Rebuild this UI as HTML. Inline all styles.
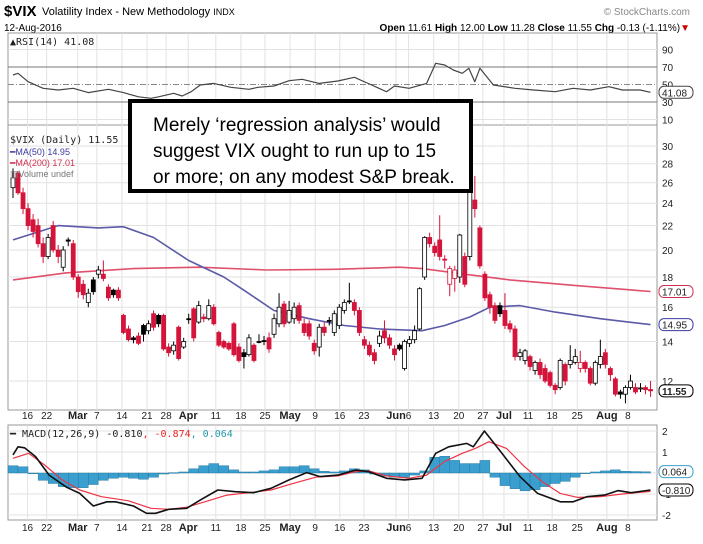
<!DOCTYPE html>
<html><head><meta charset="utf-8">
<style>
html,body{margin:0;padding:0;background:#fff;}
svg{display:block;font-family:"Liberation Sans",sans-serif;}
</style></head>
<body>
<svg id="chart" width="703" height="544" viewBox="0 0 703 544" xmlns="http://www.w3.org/2000/svg">
<rect width="703" height="544" fill="#fff"/>
<g>
<text x="4" y="16" font-size="15" font-weight="bold">$VIX</text>
<text x="42" y="15" font-size="11">Volatility Index - New Methodology <tspan font-size="9">INDX</tspan></text>
<text x="690" y="15" font-size="10" fill="#888" text-anchor="end">© StockCharts.com</text>
<text x="4" y="31" font-size="10">12-Aug-2016</text>
<text x="690" y="31" font-size="10" text-anchor="end"><tspan font-weight="bold">Open</tspan> 11.61 <tspan font-weight="bold">High</tspan> 12.00 <tspan font-weight="bold">Low</tspan> 11.28 <tspan font-weight="bold">Close</tspan> 11.55 <tspan font-weight="bold">Chg</tspan> -0.13 (-1.11%)<tspan fill="#c00">▼</tspan></text>
</g>
<g id="grid"></g>
<g id="marks"></g>
<g id="labels"></g>
<g>
<rect x="130" y="101" width="341" height="90" fill="#fff" stroke="#000" stroke-width="4"/>
<text x="153" y="131" font-size="19">Merely ‘regression analysis’ would</text>
<text x="153" y="157" font-size="19">suggest VIX ought to run up to 15</text>
<text x="153" y="183" font-size="19">or more; on any modest S&amp;P break.</text>
</g>
</svg>
<script>
const opens=[25.5,27.0,25.0,23.5,22.5,22.0,20.5,19.5,22.0,20.0,18.7,20.8,20.5,18.0,17.5,16.3,17.8,18.2,18.2,17.3,17.1,17.1,15.5,14.7,14.2,14.3,14.9,14.6,15.6,15.5,15.5,13.7,13.5,14.8,13.7,15.3,15.9,15.1,15.4,15.3,16.0,14.5,14.0,13.9,15.0,13.7,13.4,13.3,13.8,14.0,14.05,14.2,14.4,15.0,16.2,15.1,15.3,16.1,15.0,15.0,13.9,13.7,14.8,15.2,14.5,14.9,15.8,16.4,16.3,15.8,14.1,13.8,13.4,13.9,14.6,14.2,13.6,13.8,12.6,13.9,14.1,14.7,18.0,21.0,20.3,20.8,19.3,17.5,17.9,18.0,19.5,19.5,24.3,21.8,18.2,16.8,16.1,16.1,15.8,15.0,14.7,13.2,13.0,13.2,12.5,12.9,12.6,12.4,11.8,11.7,12.8,12.8,12.9,12.6,12.9,12.6,11.9,12.8,13.4,12.6,12.1,11.5,11.4,11.7,11.7,11.65,11.7,11.61];
const closes=[26.5,25.0,23.5,22.0,21.5,20.5,19.5,21.0,20.0,19.5,20.0,20.7,18.0,17.0,16.8,16.9,17.0,18.5,17.9,16.6,16.8,16.6,14.5,14.1,14.1,13.9,14.4,15.0,14.8,15.0,13.6,13.4,13.8,13.1,14.0,15.25,14.2,16.1,15.3,16.1,15.0,13.8,13.7,13.6,13.3,13.0,13.2,14.2,13.0,14.0,14.0,13.6,15.3,16.0,15.0,15.8,16.0,15.2,14.5,14.3,13.5,14.8,14.5,15.15,15.6,16.0,16.3,16.35,15.8,14.5,13.8,13.3,13.0,14.3,14.2,13.8,13.3,13.6,14.0,14.1,14.6,17.2,21.0,20.5,19.8,19.5,19.25,18.6,18.5,21.2,17.5,26.0,23.5,18.8,16.6,16.0,15.2,15.6,14.9,14.7,13.2,13.4,13.5,12.7,12.9,12.3,12.0,11.8,11.6,13.0,12.0,13.0,13.2,12.9,12.6,11.9,12.9,13.2,12.8,12.3,11.4,11.4,11.7,12.0,11.5,11.68,11.6,11.55];
const highs=[27.5,27.2,25.5,24.0,23.0,22.6,21.0,21.3,22.4,20.4,20.3,21.0,20.8,18.2,17.8,17.2,18.0,18.8,19.2,17.5,17.2,17.3,15.6,14.9,14.3,14.5,15.0,15.2,15.8,15.6,15.6,13.9,14.0,14.9,14.2,15.6,16.0,16.4,15.6,16.5,16.2,14.6,14.1,14.0,15.1,13.9,13.6,14.4,13.9,14.4,14.3,14.5,15.6,16.9,16.4,16.4,16.3,16.3,15.3,15.2,14.1,15.0,15.1,15.4,15.8,16.2,16.5,17.6,16.5,16.0,14.3,14.0,13.6,14.6,15.2,14.4,13.8,13.9,14.1,14.3,14.9,17.3,21.1,21.4,20.6,22.9,19.6,18.8,18.8,21.3,19.8,26.2,26.7,22.0,18.4,17.0,16.3,16.3,16.9,15.2,14.9,13.6,13.6,13.3,13.0,13.1,12.8,12.5,11.9,13.1,12.9,13.8,13.6,13.5,13.0,12.7,13.0,14.1,13.6,12.7,12.2,11.6,11.8,12.3,11.9,11.9,11.8,12.00];
const lows=[24.5,24.8,23.0,21.6,21.0,20.2,19.0,19.3,19.8,19.0,18.4,20.3,17.8,16.6,16.5,16.0,16.8,17.9,17.7,16.4,16.6,16.4,14.4,14.0,13.9,13.8,14.0,14.4,14.6,14.8,13.5,13.2,13.3,13.0,13.6,15.0,14.0,15.0,15.1,15.2,14.9,13.7,13.6,13.5,13.2,12.9,12.6,13.2,12.9,13.9,13.8,13.4,14.2,14.8,14.8,15.0,15.0,15.0,14.3,14.1,13.3,13.2,14.3,14.9,14.3,14.7,15.6,16.2,15.5,14.3,13.6,13.2,12.8,13.7,13.9,13.6,13.0,13.5,12.5,13.7,13.9,14.6,17.8,20.2,19.5,19.2,18.6,16.7,17.0,17.6,17.3,19.2,22.7,18.6,16.4,15.6,15.0,15.4,14.7,14.5,13.0,13.0,12.8,12.5,12.3,12.1,11.9,11.7,11.4,11.6,11.8,12.6,12.8,12.4,12.4,11.8,11.8,12.6,12.6,12.0,11.3,11.2,11.0,11.6,11.4,11.5,11.4,11.28];
const ma50Days=[0,9,17,22,28,35,42,46,52,59,66,73,81.5,86,91,95,101,108,117,127];
const ma50Vals=[20.8,22,21.8,21.9,21.0,19.2,18.0,17.1,15.8,15.3,14.9,14.7,14.6,14.9,15.4,16.0,16.1,15.7,15.3,14.95];
const ma200Days=[0,10.7,24,37,50.6,64,77,81.5,90,99,112.5,127];
const ma200Vals=[17.8,18.3,18.6,18.7,18.5,18.55,18.7,18.6,18.2,17.8,17.4,17.01];
const rsiDays=[0,1,3,6,9,12,15,19,22,25,27.5,29,32,33.7,35.5,37.3,40,43.4,47,48.8,52,55,57.6,61,64.7,68,71,74.4,76,78.9,82.4,84.2,86,87.7,89.5,90.8,92,93,95.7,100,103.7,108,111.6,115,118.7,121.4,124.9,127];
const rsiVals=[60.9,62.8,53.2,45.6,43.7,45.6,40.7,44.5,40.7,36,34.2,36,39.9,36.9,41.8,49.4,51.3,46.8,44.5,46.8,48.3,54.4,55.9,51.3,54,58.2,50.6,41.8,48.3,45.6,51.3,74.2,72.3,66.6,62.8,68.5,53.2,68.5,49.4,45.6,43.7,41.8,45.6,43.7,47.5,43.7,43.7,41.08];
const macdDays=[0,1,2.3,4.5,7.2,10.7,13.3,16,18.7,20.4,24,26.6,28.4,31,34.6,37.3,40.8,44.3,47.9,51.4,55,58.5,61.2,64.7,68.2,70.9,74.4,78,81.5,84.2,86.8,90.4,91.7,93.9,97.4,101,104.5,109,111.6,114.3,117.8,120.5,123.1,127];
const macdVals=[0.86,1.25,1.2,0.78,-0.1,-0.68,-0.97,-1.57,-1.37,-1.37,-1.57,-1.92,-1.92,-1.73,-1.68,-1.29,-0.81,-0.89,-0.94,-0.73,-0.33,0.02,-0.17,-0.1,0.14,0.06,-0.25,-0.33,-0.25,0.94,1.25,1.41,1.25,2.0,0.94,-0.17,-0.97,-1.37,-1.37,-1.13,-1.05,-0.84,-0.94,-0.81];
const signalDays=[0,3.1,6.3,9.8,13.3,17.6,22.9,27.5,31,34.6,38.2,42.6,47,51.4,55.9,60.3,64.7,68.2,70.9,74.4,78.9,82.4,85.9,89.5,92.1,94.8,98.3,101.9,105.4,109,112.5,117,121.4,127];
const signalVals=[0.7,0.94,0.38,-0.33,-0.81,-1.13,-1.32,-1.68,-1.73,-1.63,-1.37,-1.05,-0.94,-0.81,-0.49,-0.2,-0.14,0.06,0.1,-0.14,-0.25,-0.1,0.54,0.94,1.17,1.49,1.17,0.3,-0.41,-0.97,-1.16,-1.13,-1.0,-0.874];
const histVals=[0.35,0.3,0.0,-0.35,-0.5,-0.65,-0.7,-0.7,-0.55,-0.35,-0.25,-0.2,-0.25,-0.3,-0.2,-0.05,0.02,0.05,0.2,0.35,0.45,0.35,0.15,0.05,0.05,0.1,0.15,0.3,0.3,0.35,0.2,0.08,0.05,0.1,0.2,0.15,-0.05,-0.15,-0.2,-0.2,-0.1,0.1,0.75,0.8,0.6,0.45,0.45,0.6,-0.2,-0.6,-0.75,-0.85,-0.8,-0.65,-0.5,-0.4,-0.2,0.0,0.05,0.1,0.15,0.08,0.07,0.06];
const tickDays=[2.9,6.7,12.9,16.7,21.7,26.7,30.5,34.9,40.4,45.4,50.2,55.2,60.2,65.1,69.9,76.3,78.8,83.8,88.8,93.6,97.8,102.6,107.4,112.4,118.3,122.5];
const tickLabels=["16","22","Mar","7","14","21","28","Apr","11","18","25","May","9","16","23","Jun","6","13","20","27","Jul","11","18","25","Aug","8"];
const priceTicks=[12,14,16,18,20,22,24,26,28,30];
const rsiTicks=[90,70,50,30,10];
const macdTicks=[2,1,0,-1,-2];

const NS="http://www.w3.org/2000/svg";
const L=8,R=657;
const RSI_T=33,RSI_B=125,P_T=125,P_B=410,M_T=425,M_B=520;
function xd(i){return 13+i*5.02;}
function yp(v){return 146+(Math.log(30)-Math.log(v))*256.5;}
function yr(v){return 67+(70-v)*0.875;}
function ym(v){return 473-v*21;}
function mk(tag,attrs,parent){const e=document.createElementNS(NS,tag);for(const k in attrs)e.setAttribute(k,attrs[k]);parent.appendChild(e);return e;}
const grid=document.getElementById('grid'),marks=document.getElementById('marks'),labels=document.getElementById('labels');

// panel frames
[[RSI_T,RSI_B,'rsi-panel'],[P_T,P_B,'price-panel'],[M_T,M_B,'macd-panel']].forEach(p=>{
  const r=mk('rect',{x:L,y:p[0],width:R-L,height:p[1]-p[0],fill:'#fff',stroke:'#999','stroke-width':1},grid);
  
  
});
// vertical grid + x labels
tickDays.forEach((d,k)=>{
  const x=xd(d);
  [[RSI_T,RSI_B],[P_T,P_B],[M_T,M_B]].forEach(p=>{
    const ln=mk('line',{x1:x,x2:x,y1:p[0],y2:p[1],stroke:'#e2e2e2'},grid);
    
    
  });
  const bold=/[A-Za-z]/.test(tickLabels[k]);
  [419,531].forEach(yy=>{
    const t=mk('text',{x:x,y:yy,'font-size':bold?11:10,'font-weight':bold?'bold':'normal','text-anchor':'middle',fill:'#222'},labels);
    t.textContent=tickLabels[k];
    
    
  });
});
// price grid
priceTicks.forEach(v=>{
  const y=yp(v);
  const ln=mk('line',{x1:L,x2:R,y1:y,y2:y,stroke:'#e2e2e2'},grid);
  
  
  const t=mk('text',{x:662,y:y+4,'font-size':10,fill:'#222'},labels);
  t.textContent=v;
  
  
});
// rsi grid
rsiTicks.forEach(v=>{
  const y=yr(v);
  const st=(v==70||v==30)?{stroke:'#777'}:(v==50?{stroke:'#888','stroke-dasharray':'6,2,1,2'}:{stroke:'#e2e2e2'});
  const ln=mk('line',Object.assign({x1:L,x2:R,y1:y,y2:y},st),grid);
  
  
  const t=mk('text',{x:662,y:y+4,'font-size':10,fill:'#222'},labels);
  t.textContent=v;
  
  
});
// macd grid
macdTicks.forEach(v=>{
  const y=ym(v);
  const ln=mk('line',{x1:L,x2:R,y1:y,y2:y,stroke:'#e2e2e2'},grid);
  
  
  if(v!==0){
    const t=mk('text',{x:662,y:y+4,'font-size':10,fill:'#222'},labels);
    t.textContent=v;
    
    
  }
});
function poly(days,vals,yf,color,w,name){
  const pts=days.map((d,i)=>xd(d).toFixed(1)+','+yf(vals[i]).toFixed(1)).join(' ');
  const p=mk('polyline',{points:pts,fill:'none',stroke:color,'stroke-width':w,'stroke-linejoin':'round'},marks);
  
  
}
// RSI
poly(rsiDays,rsiVals,yr,'#444',1.2,'rsi-line');
// MAs
poly(ma200Days,ma200Vals,yp,'#e0506a',1.6,'ma200-line');
poly(ma50Days,ma50Vals,yp,'#5a5aa8',1.6,'ma50-line');
// candles
opens.forEach((o,i)=>{
  const c=closes[i],h=highs[i],l=lows[i],x=xd(i);
  const prev=i>0?closes[i-1]:c;
  const col=c<prev?'#d4143a':'#000';
  const g=mk('g',{},marks);
  
  
  mk('line',{x1:x,x2:x,y1:yp(h),y2:yp(l),stroke:col,'stroke-width':1},g);
  const top=yp(Math.max(o,c)),bot=yp(Math.min(o,c));
  mk('rect',{x:x-2,y:top,width:4,height:Math.max(1,bot-top),fill:c>o?'#fff':col,stroke:col,'stroke-width':0.8},g);
});
// MACD hist
histVals.forEach((v,k)=>{
  const x=xd(k*2)-1;
  const y0=ym(0),y1=ym(v);
  const r=mk('rect',{x:x-4,y:Math.min(y0,y1),width:10,height:Math.max(0.8,Math.abs(y1-y0)),fill:'#3a9fcf',stroke:'#1f6f95','stroke-width':0.4},marks);
  
  
});
poly(signalDays,signalVals,ym,'#ee3344',1.2,'macd-signal-line');
poly(macdDays,macdVals,ym,'#111',1.6,'macd-line');

// legends
function txt(x,y,s,size,fill,name,extra){const t=mk('text',Object.assign({x:x,y:y,'font-size':size,fill:fill},extra||{}),labels);t.textContent=s;return t;}
txt(10,45,'▲RSI(14) 41.08',10,'#222','rsi-legend',{'font-family':'"DejaVu Sans Mono",monospace'});
txt(10,143,'$VIX (Daily) 11.55',10,'#222','price-legend',{'font-family':'"DejaVu Sans Mono",monospace'});
txt(10,155,'━MA(50) 14.95',9,'#3a3aa0','ma50-legend');
txt(10,166,'━MA(200) 17.01',9,'#d03050','ma200-legend');
txt(10,177,'▥Volume undef',9,'#777','volume-legend');
const ml=txt(10,437,'',10,'#222','macd-legend',{'font-family':'"DejaVu Sans Mono",monospace'});
ml.innerHTML='<tspan font-weight="bold">━</tspan> MACD(12,26,9) -0.810<tspan fill="#e22">, -0.874</tspan><tspan fill="#29a">, 0.064</tspan>';

// value tags
function tag(y,s,col,name,bold){
  const g=mk('g',{},labels);
  
  
  mk('rect',{x:659,y:y-6,width:34,height:12,rx:5,fill:'#fff',stroke:col,'stroke-width':1},g);
  const t=mk('text',{x:662,y:y+4,'font-size':10,fill:'#222','font-weight':bold?'bold':'normal'},g);
  t.textContent=s;
}
tag(yr(41.08),'41.08','#444','rsi-value-tag');
tag(yp(17.01),'17.01','#d03050','ma200-value-tag');
tag(yp(14.95),'14.95','#3a3aa0','ma50-value-tag');
tag(yp(11.55),'11.55','#000','price-value-tag',true);
tag(ym(0.064),'0.064','#3a9fcf','hist-value-tag');
tag(ym(-0.81),'-0.810','#000','macd-value-tag');
</script>
</body></html>
